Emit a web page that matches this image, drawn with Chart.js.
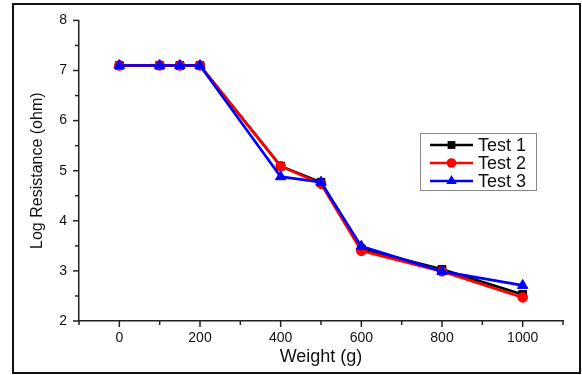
<!DOCTYPE html>
<html>
<head>
<meta charset="utf-8">
<script src="https://cdn.jsdelivr.net/npm/chart.js@4.4.1/dist/chart.umd.min.js"></script>
<style>
  html, body { margin: 0; padding: 0; background: #fff; }
  #wrap { width: 582px; height: 375px; position: relative; }
</style>
</head>
<body>
<div id="wrap"><canvas id="c" width="582" height="375"></canvas></div>
<script>
const weights = [0, 100, 150, 200, 400, 500, 600, 800, 1000];
const test1 = [7.1, 7.1, 7.1, 7.1, 5.09, 4.77, 3.44, 3.03, 2.53];
const test2 = [7.1, 7.1, 7.1, 7.1, 5.09, 4.74, 3.40, 2.99, 2.47];
const test3 = [7.1, 7.1, 7.1, 7.1, 4.88, 4.77, 3.49, 2.99, 2.71];
const seriesNames = ['Test 1', 'Test 2', 'Test 3'];
const seriesColors = ['#000000', '#ff0000', '#0000ff'];
const seriesMarkers = ['rect', 'circle', 'triangle'];
const xTickLabels = [0, 200, 400, 600, 800, 1000];
const yTickLabels = [2, 3, 4, 5, 6, 7, 8];

const FONT = '"Liberation Sans", Arial, sans-serif';
const toPts = arr => weights.map((w, i) => ({ x: w, y: arr[i] }));
const seriesData = [test1, test2, test3];
const markerRadius = [5.5, 4.8, 6];

const datasets = seriesData.map((arr, i) => ({
  label: seriesNames[i],
  data: toPts(arr),
  borderColor: seriesColors[i],
  backgroundColor: seriesColors[i],
  pointBackgroundColor: seriesColors[i],
  pointBorderColor: seriesColors[i],
  pointStyle: seriesMarkers[i],
  pointRadius: markerRadius[i],
  pointBorderWidth: 1,
  borderWidth: 2.7,
  tension: 0,
  order: 2 - i
}));

const frame = {
  id: 'frame',
  beforeDraw(chart) {
    const ctx = chart.ctx;
    ctx.save();
    ctx.fillStyle = '#fff';
    ctx.fillRect(0, 0, chart.width, chart.height);
    ctx.strokeStyle = '#111';
    ctx.lineWidth = 2;
    ctx.strokeRect(13, 4, 567, 369);
    ctx.restore();
  }
};

const tickMarks = {
  id: 'tickMarks',
  afterDraw(chart) {
    const ctx = chart.ctx;
    const xs = chart.scales.x, ys = chart.scales.y;
    const area = chart.chartArea;
    ctx.save();
    ctx.strokeStyle = '#222';
    ctx.lineWidth = 1.5;
    for (let v = -100; v <= 1100; v += 100) {
      const px = xs.getPixelForValue(v);
      const major = xTickLabels.includes(v);
      ctx.beginPath();
      ctx.moveTo(px, area.bottom);
      ctx.lineTo(px, area.bottom + (major ? 6 : 4));
      ctx.stroke();
    }
    for (let v = 2; v <= 8.001; v += 0.5) {
      const py = ys.getPixelForValue(v);
      const major = yTickLabels.includes(v);
      ctx.beginPath();
      ctx.moveTo(area.left, py);
      ctx.lineTo(area.left - (major ? 6 : 4), py);
      ctx.stroke();
    }
    ctx.restore();
  }
};

const lineLegend = {
  id: 'lineLegend',
  afterDraw(chart) {
    const ctx = chart.ctx;
    const bx = 420, by = 133, bw = 116, bh = 57;
    ctx.save();
    ctx.strokeStyle = '#888';
    ctx.lineWidth = 1;
    ctx.strokeRect(bx + 0.5, by + 0.5, bw, bh);
    const rows = [145, 163, 181];
    chart.data.datasets.forEach((ds, i) => {
      const y = rows[i];
      ctx.strokeStyle = ds.borderColor;
      ctx.lineWidth = 2.5;
      ctx.beginPath();
      ctx.moveTo(430, y);
      ctx.lineTo(473, y);
      ctx.stroke();
      ctx.fillStyle = ds.borderColor;
      const r = ds.pointRadius;
      if (ds.pointStyle === 'rect') {
        const s = r * Math.SQRT1_2;
        ctx.fillRect(451.5 - s, y - s, 2 * s, 2 * s);
      } else if (ds.pointStyle === 'circle') {
        ctx.beginPath(); ctx.arc(451.5, y, r, 0, Math.PI * 2); ctx.fill();
      } else {
        const w = r * Math.sqrt(3);
        ctx.beginPath();
        ctx.moveTo(451.5, y - r);
        ctx.lineTo(451.5 + w / 2, y + r / 2);
        ctx.lineTo(451.5 - w / 2, y + r / 2);
        ctx.closePath(); ctx.fill();
      }
      ctx.fillStyle = '#111';
      ctx.font = '18px ' + FONT;
      ctx.textBaseline = 'middle';
      ctx.textAlign = 'left';
      ctx.fillText(ds.label, 478, y + 1);
    });
    ctx.restore();
  }
};

new Chart(document.getElementById('c'), {
  type: 'line',
  data: { datasets },
  options: {
    responsive: false,
    animation: false,
    devicePixelRatio: 1,
    layout: { padding: { left: 0, top: 16, right: 19, bottom: 0 } },
    plugins: { legend: { display: false }, tooltip: { enabled: false } },
    scales: {
      x: {
        type: 'linear',
        min: -100, max: 1100,
        afterFit: s => { s.height = 54; },
        grid: { display: false, drawTicks: false },
        border: { display: true, color: '#222', width: 1.5 },
        ticks: {
          stepSize: 100, autoSkip: false, maxRotation: 0, padding: 9,
          color: '#111', font: { family: FONT, size: 14 },
          callback: v => xTickLabels.includes(v) ? String(v) : ''
        },
        title: { display: true, text: 'Weight (g)', color: '#111',
          font: { family: FONT, size: 18 }, padding: { top: 0, bottom: 7 } }
      },
      y: {
        type: 'linear',
        min: 2, max: 8,
        afterFit: s => { s.width = 79; },
        grid: { display: false, drawTicks: false },
        border: { display: true, color: '#222', width: 1.5 },
        ticks: {
          stepSize: 0.5, autoSkip: false, padding: 12,
          color: '#111', font: { family: FONT, size: 14 },
          callback: v => yTickLabels.includes(v) ? String(v) : ''
        },
        title: { display: true, text: 'Log Resistance (ohm)', color: '#111',
          font: { family: FONT, size: 16 }, padding: { top: 28, bottom: 0 } }
      }
    }
  },
  plugins: [frame, tickMarks, lineLegend]
});
</script>
</body>
</html>
